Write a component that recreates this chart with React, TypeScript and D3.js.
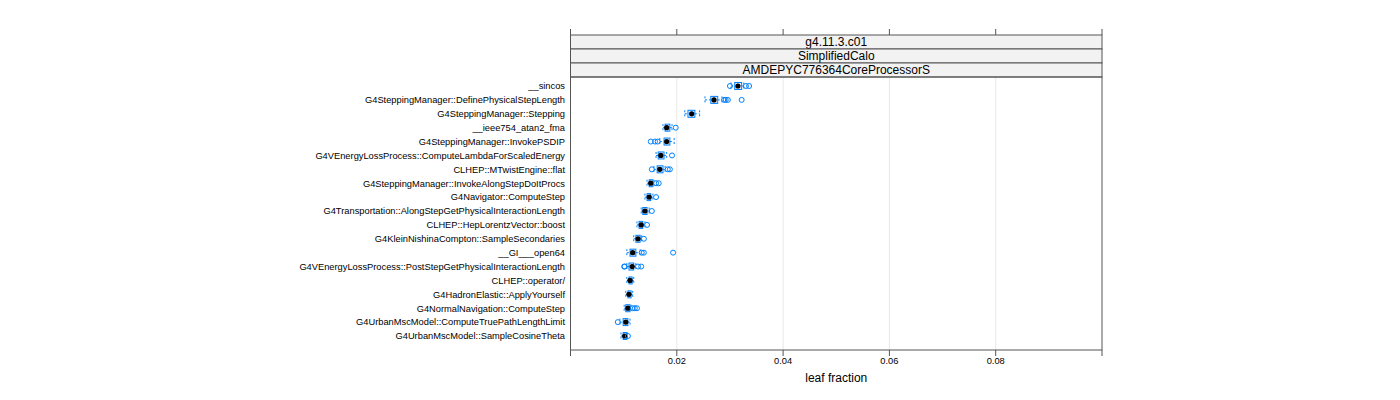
import React from "react";
import * as d3 from "d3";

const categories = [
  "__sincos",
  "G4SteppingManager::DefinePhysicalStepLength",
  "G4SteppingManager::Stepping",
  "__ieee754_atan2_fma",
  "G4SteppingManager::InvokePSDIP",
  "G4VEnergyLossProcess::ComputeLambdaForScaledEnergy",
  "CLHEP::MTwistEngine::flat",
  "G4SteppingManager::InvokeAlongStepDoItProcs",
  "G4Navigator::ComputeStep",
  "G4Transportation::AlongStepGetPhysicalInteractionLength",
  "CLHEP::HepLorentzVector::boost",
  "G4KleinNishinaCompton::SampleSecondaries",
  "__GI___open64",
  "G4VEnergyLossProcess::PostStepGetPhysicalInteractionLength",
  "CLHEP::operator/",
  "G4HadronElastic::ApplyYourself",
  "G4NormalNavigation::ComputeStep",
  "G4UrbanMscModel::ComputeTruePathLengthLimit",
  "G4UrbanMscModel::SampleCosineTheta",
];

const whiskerLow = [0.0302, 0.0253, 0.0215, 0.0174, 0.0168, 0.0161, 0.0157, 0.0144, 0.014, 0.0133, 0.0125, 0.0119, 0.0106, 0.0106, 0.0106, 0.0104, 0.0101, 0.0093, 0.0095];
const boxLow = [0.0309, 0.0264, 0.0221, 0.0178, 0.0176, 0.0165, 0.0163, 0.0148, 0.0144, 0.0136, 0.0129, 0.0123, 0.0112, 0.011, 0.011, 0.0108, 0.0104, 0.0099, 0.0099];
const medians = [0.0315, 0.027, 0.0228, 0.0181, 0.0181, 0.017, 0.0168, 0.0151, 0.0148, 0.014, 0.0133, 0.0127, 0.0117, 0.0116, 0.0112, 0.011, 0.0108, 0.0104, 0.0102];
const boxHigh = [0.0322, 0.0277, 0.0234, 0.0187, 0.0187, 0.0176, 0.0174, 0.0155, 0.0151, 0.0144, 0.0136, 0.0131, 0.0123, 0.0119, 0.0116, 0.0114, 0.0112, 0.0108, 0.0106];
const whiskerHigh = [0.0326, 0.0285, 0.0243, 0.0191, 0.0195, 0.0181, 0.0178, 0.0157, 0.0155, 0.0148, 0.014, 0.0134, 0.0131, 0.0123, 0.0119, 0.0117, 0.0114, 0.0112, 0.0107];
const outliers: number[][] = [
  [0.03, 0.033, 0.0336],
  [0.0289, 0.0292, 0.0296, 0.0322],
  [],
  [0.0198],
  [0.0151, 0.0159, 0.0164],
  [0.0191],
  [0.0153, 0.0183, 0.0187],
  [0.0161, 0.0166],
  [0.0161],
  [0.0153],
  [0.0144],
  [0.0138],
  [0.0134, 0.0138, 0.0193],
  [0.0101, 0.0102, 0.0127, 0.0133],
  [],
  [],
  [0.0117, 0.0121, 0.0125],
  [0.0089],
  [0.0108],
];

const stripLabels = ["g4.11.3.c01", "SimplifiedCalo", "AMDEPYC776364CoreProcessorS"];
const tickValues = [0, 0.02, 0.04, 0.06, 0.08, 0.1];
const tickLabels = ["", "0.02", "0.04", "0.06", "0.08", ""];
const xLabel = "leaf fraction";

export default function App() {
  const W = 1400, H = 400;
  const left = 570.5, right = 1102;
  const stripTop = 35, stripH = 14;
  const panelTop = stripTop + stripH * stripLabels.length;
  const panelBottom = 350;
  const x = d3.scaleLinear().domain([0, 0.1]).range([left, right]);
  const y = d3.scalePoint<string>().domain(categories).range([86, 336]);
  const blue = "#0080ff";
  const bh = 3.5;
  const font = "Liberation Sans, Arial, sans-serif";

  return (
    <svg width={W} height={H} style={{ position: "absolute", left: 0, top: 0, fontFamily: font }}>
      <rect x={0} y={0} width={W} height={H} fill="#fff" />
      {tickValues.slice(1, 5).map((t) => (
        <line key={"g" + t} x1={x(t)} x2={x(t)} y1={panelTop} y2={panelBottom} stroke="#e8e8e8" strokeWidth={1} />
      ))}
      {stripLabels.map((s, i) => (
        <g key={s}>
          <rect x={left} y={stripTop + i * stripH} width={right - left} height={stripH} fill="#f2f2f2" stroke="#555" strokeWidth={1} />
          <text x={(left + right) / 2} y={stripTop + i * stripH + 11} textAnchor="middle" fontSize={12} fill="#000">{s}</text>
        </g>
      ))}
      <rect x={left} y={panelTop} width={right - left} height={panelBottom - panelTop} fill="none" stroke="#555" strokeWidth={1} />
      {tickValues.map((t, i) => (
        <g key={"t" + t}>
          <line x1={x(t)} x2={x(t)} y1={panelBottom} y2={panelBottom + 6} stroke="#555" />
          <line x1={x(t)} x2={x(t)} y1={stripTop - 6} y2={stripTop} stroke="#555" />
          <text x={x(t)} y={panelBottom + 14} textAnchor="middle" fontSize={9.3} fill="#000">{tickLabels[i]}</text>
        </g>
      ))}
      <text x={(left + right) / 2} y={382} textAnchor="middle" fontSize={12} fill="#000">{xLabel}</text>
      {categories.map((c) => (
        <text key={"l" + c} x={565} y={(y(c) as number) + 3.3} textAnchor="end" fontSize={9.3} fill="#000">{c}</text>
      ))}
      {categories.map((c, i) => {
        const cy = y(c) as number;
        return (
          <g key={"b" + c}>
            <line x1={x(whiskerLow[i])} x2={x(boxLow[i])} y1={cy} y2={cy} stroke={blue} strokeDasharray="2,2" />
            <line x1={x(boxHigh[i])} x2={x(whiskerHigh[i])} y1={cy} y2={cy} stroke={blue} strokeDasharray="2,2" />
            <line x1={x(whiskerLow[i])} x2={x(whiskerLow[i])} y1={cy - bh} y2={cy + bh} stroke={blue} strokeDasharray="2,2" />
            <line x1={x(whiskerHigh[i])} x2={x(whiskerHigh[i])} y1={cy - bh} y2={cy + bh} stroke={blue} strokeDasharray="2,2" />
            <rect x={x(boxLow[i])} y={cy - bh} width={x(boxHigh[i]) - x(boxLow[i])} height={bh * 2} fill="#cfe6ff" fillOpacity={0.5} stroke={blue} strokeWidth={1} />
            <circle cx={x(medians[i])} cy={cy} r={2.6} fill="#000" />
            {outliers[i].map((o, j) => (
              <circle key={j} cx={x(o)} cy={cy} r={2.5} fill="none" stroke={blue} strokeWidth={1} />
            ))}
          </g>
        );
      })}
    </svg>
  );
}
